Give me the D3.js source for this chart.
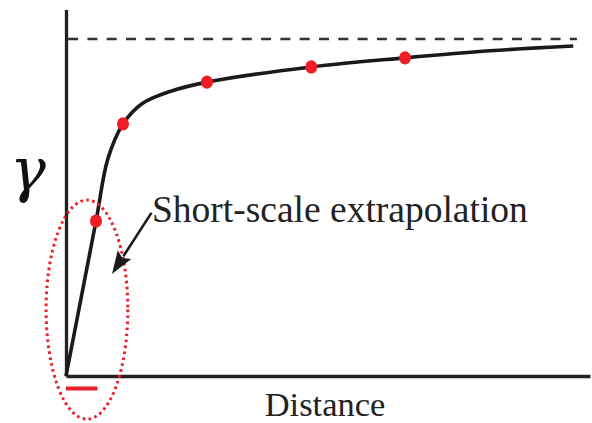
<!DOCTYPE html>
<html>
<head>
<meta charset="utf-8">
<script src="https://cdn.jsdelivr.net/npm/d3@7"></script>
<style>
  html, body { margin: 0; padding: 0; background: #fff; }
  svg { display: block; }
</style>
</head>
<body>
<svg id="chart" width="592" height="423"></svg>
<script>
// ---- Data (distance units, semivariance normalised to sill = 1) ----
const modelDistance = [0, 0.573, 0.80, 1.088, 1.45, 2.0, 2.69, 4.68, 6.47, 8.09, 9.68];
const modelGamma    = [0, 0.46, 0.645, 0.748, 0.808, 0.845, 0.872, 0.917, 0.944, 0.965, 0.979];
const sampleDistance = [0.573, 1.088, 2.69, 4.68, 6.47];
const sampleGamma    = [0.46, 0.748, 0.872, 0.917, 0.944];
const sill = 1;
const shortRange = [0, 0.6];
const xLabel = "Distance";
const yLabel = "\u03b3";
const annotation = "Short-scale extrapolation";

const svg = d3.select("#chart");
const x = d3.scaleLinear().domain([0, 10]).range([66, 590]);
const y = d3.scaleLinear().domain([0, 1]).range([376, 39]);

// Axes (plain lines, no ticks)
const xAxis = d3.axisBottom(x).tickValues([]).tickSizeOuter(0);
const yTop = d3.scaleLinear().domain([0, 1.087]).range([376, 9.5]);
svg.append("g").attr("transform", `translate(0,${y(0)})`)
  .call(xAxis).call(g => g.select(".domain").attr("stroke", "#222").attr("stroke-width", 3.3));
svg.append("g").attr("transform", `translate(${x(0)},0)`)
  .call(d3.axisLeft(yTop).tickValues([]).tickSizeOuter(0))
  .call(g => g.select(".domain").attr("stroke", "#222").attr("stroke-width", 3.3));

// Sill dashed line
svg.append("line")
  .attr("x1", x(0.04)).attr("x2", x(9.75))
  .attr("y1", y(sill)).attr("y2", y(sill))
  .attr("stroke", "#333").attr("stroke-width", 2.6)
  .attr("stroke-dasharray", "10,9.3");

// Model curve
const modelData = modelDistance.map((d, i) => [d, modelGamma[i]]);
svg.append("path")
  .datum(modelData)
  .attr("fill", "none").attr("stroke", "#1a1a1a").attr("stroke-width", 3.6)
  .attr("d", d3.line().x(d => x(d[0])).y(d => y(d[1])).curve(d3.curveCatmullRom.alpha(0.5)));

// Sample points
svg.selectAll("ellipse.pt")
  .data(sampleDistance.map((d, i) => [d, sampleGamma[i]]))
  .join("ellipse").attr("class", "pt")
  .attr("cx", d => x(d[0])).attr("cy", d => y(d[1]))
  .attr("rx", 6).attr("ry", 6.6)
  .attr("fill", "#ee1c25");

// Red bar marking short range
svg.append("line")
  .attr("x1", x(shortRange[0])).attr("x2", x(shortRange[1]))
  .attr("y1", y(0) + 12.5).attr("y2", y(0) + 12.5)
  .attr("stroke", "#e8202a").attr("stroke-width", 4);

// Dotted ellipse
svg.append("ellipse")
  .attr("cx", x(0.40)).attr("cy", y(0.197))
  .attr("rx", x(0.78) - x(0)).attr("ry", y(0) - y(0.325))
  .attr("fill", "none").attr("stroke", "#e8202a").attr("stroke-width", 3)
  .attr("stroke-dasharray", "2.6,3.4");

// Arrow
const a0 = [x(1.63), y(0.484)], a1 = [x(0.878), y(0.303)];
const dx = a1[0] - a0[0], dy = a1[1] - a0[1], L = Math.hypot(dx, dy);
const ux = dx / L, uy = dy / L, headLen = 23, headW = 8;
const base = [a1[0] - ux * headLen, a1[1] - uy * headLen];
svg.append("line")
  .attr("x1", a0[0]).attr("y1", a0[1]).attr("x2", base[0] + ux * 2).attr("y2", base[1] + uy * 2)
  .attr("stroke", "#1a1a1a").attr("stroke-width", 2.6);
svg.append("path")
  .attr("d", d3.line()([a1, [base[0] - uy * headW, base[1] + ux * headW], [base[0] + ux * 4, base[1] + uy * 4], [base[0] + uy * headW, base[1] - ux * headW]]) + "Z")
  .attr("fill", "#1a1a1a");

// Texts
svg.append("text")
  .attr("x", x(1.64)).attr("y", y(0.457))
  .attr("font-family", "'Liberation Serif', serif").attr("font-size", 37.5)
  .attr("fill", "#222").text(annotation);
svg.append("text")
  .attr("x", 325).attr("y", 416)
  .attr("text-anchor", "middle")
  .attr("font-family", "'Liberation Serif', serif").attr("font-size", 34.5)
  .attr("fill", "#222").text(xLabel);
svg.append("text")
  .attr("x", 28).attr("y", 191)
  .attr("text-anchor", "middle")
  .attr("font-family", "'DejaVu Serif', serif").attr("font-style", "italic").attr("font-size", 60)
  .attr("fill", "#111").text(yLabel);
</script>
</body>
</html>
